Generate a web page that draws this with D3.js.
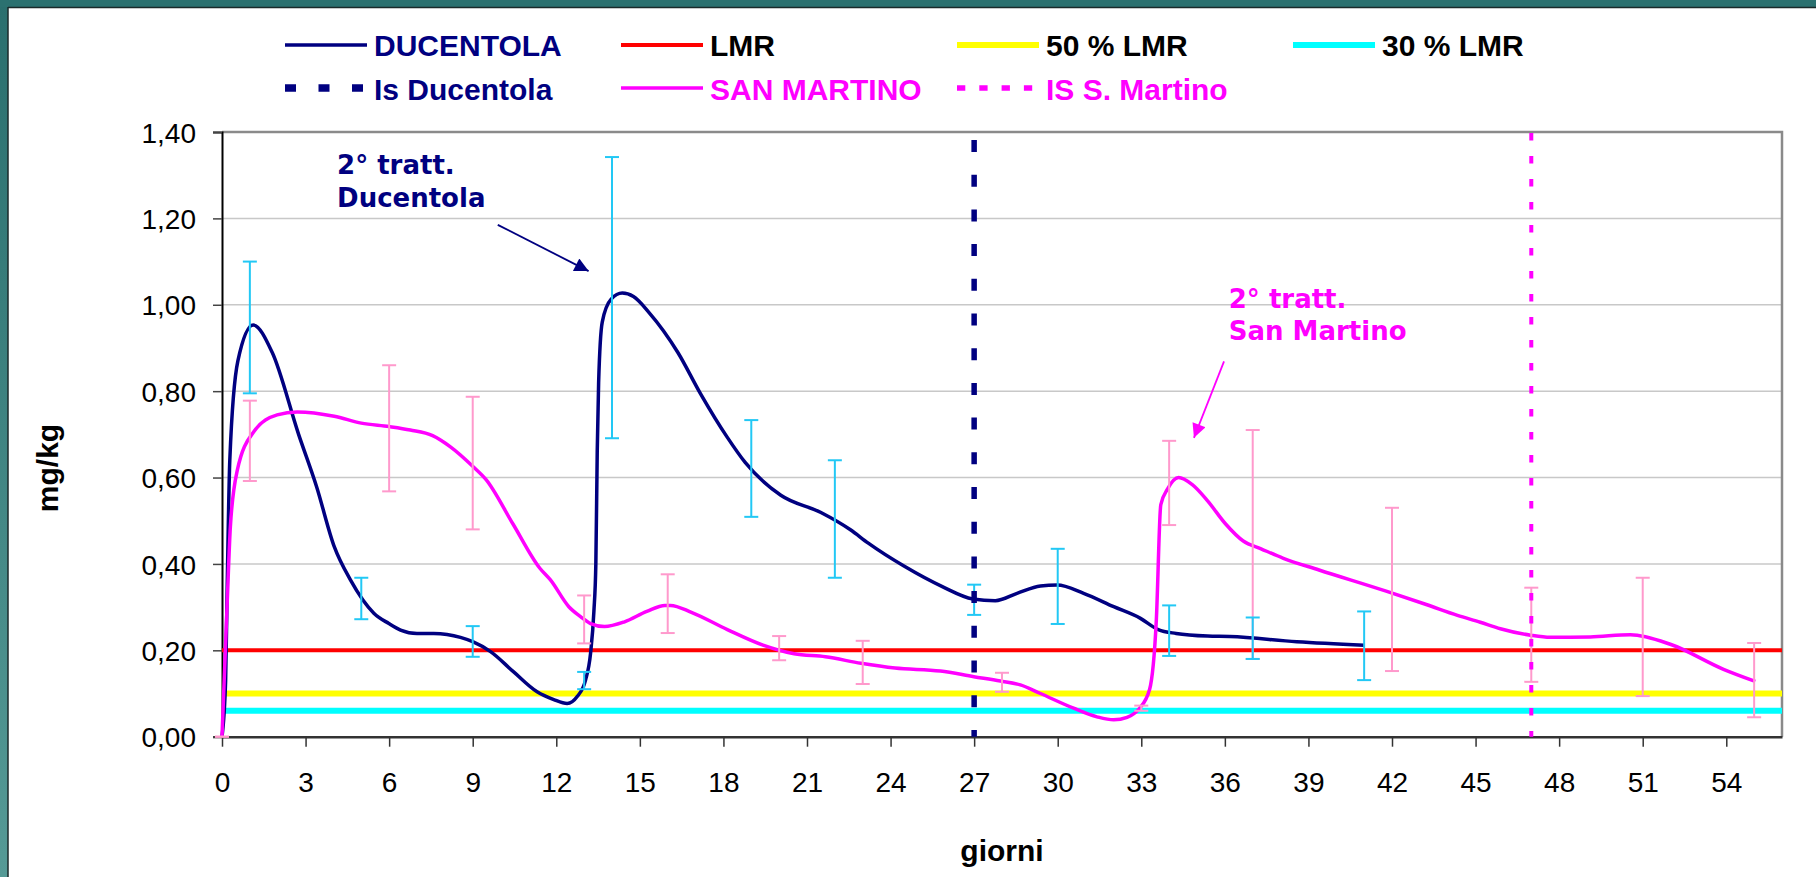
<!DOCTYPE html>
<html><head><meta charset="utf-8">
<script src="https://cdn.jsdelivr.net/npm/d3@7/dist/d3.min.js"></script>
<style>body{margin:0;background:#fff}svg{display:block}</style>
</head><body>
<svg id="chart" width="1816" height="877"></svg>
<script>
// ---- data ----
const xTicks = [0,3,6,9,12,15,18,21,24,27,30,33,36,39,42,45,48,51,54];
const yTicks = [0,0.2,0.4,0.6,0.8,1.0,1.2,1.4];

// DUCENTOLA mean curve (days, mg/kg)
const ducDays = [0,0.13,0.18,0.28,0.57,1.12,1.8,2.75,3.39,4.03,4.61,5.45,5.99,6.41,7.0,7.6,8.56,9.0,9.64,10.47,11.31,11.91,12.39,12.75,13.05,13.23,13.35,13.42,13.47,13.52,13.65,13.97,14.37,14.77,15.33,16.37,17.17,18.14,18.78,20.06,21.5,22.56,23.2,24.48,25.84,26.95,27.76,28.54,29.38,29.98,30.93,32.01,32.97,33.61,34.25,35.38,36.18,38.58,41.0];
const ducVals = [0,0.13,0.32,0.64,0.87,0.953,0.89,0.70,0.58,0.44,0.363,0.286,0.262,0.247,0.239,0.239,0.23,0.22,0.197,0.15,0.104,0.086,0.077,0.093,0.131,0.193,0.29,0.40,0.66,0.82,0.96,1.013,1.027,1.019,0.982,0.889,0.795,0.693,0.635,0.559,0.519,0.479,0.448,0.395,0.348,0.319,0.315,0.332,0.349,0.351,0.332,0.301,0.274,0.248,0.239,0.233,0.232,0.22,0.212];
const ducErrDays = [1,5,9,13,14,19,22,27,30,34,37,41];
const ducErrLo   = [0.795,0.272,0.185,0.11,0.691,0.509,0.368,0.282,0.261,0.187,0.180,0.131];
const ducErrHi   = [1.100,0.368,0.256,0.150,1.342,0.733,0.640,0.352,0.435,0.304,0.276,0.290];

// SAN MARTINO mean curve
const smDays = [0,0.19,0.3,0.55,1.14,1.98,2.7,4.03,5.0,6.0,6.76,7.56,8.2,9.0,9.48,10.44,11.41,11.79,12.45,12.87,13.23,13.73,14.45,15.25,15.9,16.1,16.85,18.14,19.42,20.54,21.66,22.94,24.16,25.79,26.99,27.94,28.66,29.38,30.57,31.41,32.01,32.49,32.9,33.3,33.54,33.7,33.94,34.34,34.82,35.38,36.02,36.66,37.3,38.1,39.38,41.79,43.23,44.35,45.17,45.89,46.97,47.68,49.12,50.56,51.99,53.9,55.04];
const smVals = [0,0.316,0.486,0.617,0.706,0.745,0.752,0.742,0.726,0.718,0.71,0.697,0.671,0.626,0.595,0.493,0.39,0.363,0.301,0.278,0.262,0.255,0.266,0.29,0.304,0.304,0.288,0.248,0.212,0.192,0.185,0.17,0.159,0.152,0.139,0.129,0.12,0.1,0.066,0.046,0.039,0.045,0.063,0.11,0.27,0.537,0.573,0.6,0.584,0.546,0.493,0.453,0.435,0.413,0.386,0.337,0.306,0.281,0.265,0.25,0.235,0.23,0.231,0.236,0.214,0.156,0.128];
const smErrDays = [0,1,6,9,13,16,20,23,28,33,34,37,42,47,51,55];
const smErrLo   = [0,0.592,0.568,0.480,0.216,0.240,0.177,0.122,0.104,0.060,0.490,0.180,0.152,0.127,0.094,0.045];
const smErrHi   = [0,0.778,0.860,0.787,0.327,0.376,0.233,0.222,0.148,0.072,0.685,0.710,0.530,0.345,0.368,0.217];

// reference levels
const lmr = 0.2, lmr50 = 0.1, lmr30 = 0.06;
const isDucentolaDay = 27, isSanMartinoDay = 47;

// annotations (data units)
const annDuc = {day:4.13, val:1.302, lines:["2°  tratt.","Ducentola"], from:[9.9,1.185], to:[13.16,1.078]};
const annSM  = {day:36.14, val:0.993, lines:["2°  tratt.","San Martino"], from:[35.97,0.869], to:[34.89,0.692]};

// ---- drawing ----
const svg = d3.select("#chart");
const W = 1816, H = 877;
const x = d3.scaleLinear().domain([0,56]).range([222,1782]);
const y = d3.scaleLinear().domain([0,1.4]).range([736.7,132]);

const NAVY="#000080", MAG="#ff00ff", RED="#ff0000", YEL="#ffff00", CYA="#00ffff";
const ERRB="#22c8f5", ERRP="#ff99cc";

// frame
const defs = svg.append("defs");
const g1 = defs.append("linearGradient").attr("id","side").attr("x1",0).attr("y1",0).attr("x2",0).attr("y2",1);
g1.append("stop").attr("offset","0").attr("stop-color","#2a6f6e");
g1.append("stop").attr("offset","1").attr("stop-color","#559a96");
svg.append("rect").attr("width",W).attr("height",H).attr("fill","#fff");
svg.append("rect").attr("x",0).attr("y",0).attr("width",8).attr("height",H).attr("fill","url(#side)");
svg.append("rect").attr("x",0).attr("y",0).attr("width",W).attr("height",7).attr("fill","#2b7170");
svg.append("line").attr("x1",8).attr("x2",W).attr("y1",7.5).attr("y2",7.5).attr("stroke","#1a2a2a").attr("stroke-width",1.5);
svg.append("line").attr("x1",8).attr("x2",8).attr("y1",7).attr("y2",H).attr("stroke","#1a2a2a").attr("stroke-width",1.5);

// arrow markers
function marker(id,color){
  defs.append("marker").attr("id",id).attr("viewBox","0 0 10 10").attr("refX",10).attr("refY",5)
    .attr("markerWidth",12).attr("markerHeight",10).attr("markerUnits","userSpaceOnUse").attr("orient","auto")
    .append("path").attr("d","M0,0L10,5L0,10z").attr("fill",color);
}
defs.append("marker").attr("id","aN").attr("viewBox","0 0 10 10").attr("refX",10).attr("refY",5)
  .attr("markerWidth",18).attr("markerHeight",14).attr("markerUnits","userSpaceOnUse").attr("orient","auto")
  .append("path").attr("d","M0,0L10,5L0,10z").attr("fill",NAVY);
defs.append("marker").attr("id","aM").attr("viewBox","0 0 10 10").attr("refX",10).attr("refY",5)
  .attr("markerWidth",18).attr("markerHeight",14).attr("markerUnits","userSpaceOnUse").attr("orient","auto")
  .append("path").attr("d","M0,0L10,5L0,10z").attr("fill",MAG);

// gridlines
svg.append("g").selectAll("line").data(yTicks.filter(d=>d>0 && d<1.4)).join("line")
  .attr("x1",x(0)).attr("x2",x(56)).attr("y1",d=>y(d)).attr("y2",d=>y(d))
  .attr("stroke","#c8c8c8").attr("stroke-width",1.5);

// plot border top/right
svg.append("path").attr("d",`M${x(0)},${y(1.4)}H${x(56)}V${y(0)}`).attr("fill","none").attr("stroke","#8a8a8a").attr("stroke-width",2.5);

// axes
const fmt = d => d.toFixed(2).replace(".",",");
const yAx = svg.append("g").attr("transform",`translate(${x(0)},0)`)
  .call(d3.axisLeft(y).tickValues(yTicks).tickFormat(fmt).tickSize(9).tickPadding(17));
yAx.select(".domain").attr("stroke","#000").attr("stroke-width",2);
yAx.selectAll(".tick line").attr("stroke","#444").attr("stroke-width",1.5);
yAx.selectAll("text").attr("font-family","'Liberation Sans',Arial,sans-serif").attr("font-size",28).attr("fill","#000").attr("dy","0.36em");

const xAx = svg.append("g").attr("transform",`translate(0,${y(0)})`)
  .call(d3.axisBottom(x).tickValues(xTicks).tickFormat(d3.format("d")).tickSize(10).tickSizeOuter(0));
xAx.select(".domain").attr("stroke","#333").attr("stroke-width",2.5);
xAx.selectAll(".tick line").attr("stroke","#333").attr("stroke-width",1.5);
xAx.selectAll("text").attr("font-family","'Liberation Sans',Arial,sans-serif").attr("font-size",28).attr("fill","#000").attr("y",55).attr("dy",0);

// axis titles
svg.append("text").attr("x",(x(0)+x(56))/2).attr("y",861).attr("text-anchor","middle")
  .attr("font-family","'Liberation Sans',Arial,sans-serif").attr("font-weight","bold").attr("font-size",30).text("giorni");
svg.append("text").attr("transform","translate(58,468) rotate(-90)").attr("text-anchor","middle")
  .attr("font-family","'Liberation Sans',Arial,sans-serif").attr("font-weight","bold").attr("font-size",30).text("mg/kg");

// horizontal reference lines
[[lmr50,YEL,6],[lmr30,CYA,6],[lmr,RED,4]].forEach(([v,c,w])=>{
  svg.append("line").attr("x1",x(0)).attr("x2",x(56)).attr("y1",y(v)).attr("y2",y(v)).attr("stroke",c).attr("stroke-width",w);
});

// series lines
const line = d3.line().x(d=>x(d[0])).y(d=>y(d[1])).curve(d3.curveMonotoneX);
svg.append("path").datum(ducDays.map((d,i)=>[d,ducVals[i]])).attr("d",line)
  .attr("fill","none").attr("stroke",NAVY).attr("stroke-width",3.5).attr("stroke-linejoin","round");
svg.append("path").datum(smDays.map((d,i)=>[d,smVals[i]])).attr("d",line)
  .attr("fill","none").attr("stroke",MAG).attr("stroke-width",3.5).attr("stroke-linejoin","round");

// error bars
function errBars(days,lo,hi,color){
  const g = svg.append("g").attr("stroke",color).attr("stroke-width",2);
  days.forEach((d,i)=>{
    const xx = x(d);
    g.append("line").attr("x1",xx).attr("x2",xx).attr("y1",y(lo[i])).attr("y2",y(hi[i]));
    g.append("line").attr("x1",xx-7).attr("x2",xx+7).attr("y1",y(lo[i])).attr("y2",y(lo[i]));
    g.append("line").attr("x1",xx-7).attr("x2",xx+7).attr("y1",y(hi[i])).attr("y2",y(hi[i]));
  });
}
errBars(smErrDays,smErrLo,smErrHi,ERRP);
errBars(ducErrDays,ducErrLo,ducErrHi,ERRB);

// vertical IS lines
svg.append("line").attr("x1",x(isDucentolaDay)).attr("x2",x(isDucentolaDay)).attr("y1",y(1.4)+8).attr("y2",y(0))
  .attr("stroke",NAVY).attr("stroke-width",5.5).attr("stroke-dasharray","12,22.7");
svg.append("line").attr("x1",x(isSanMartinoDay)).attr("x2",x(isSanMartinoDay)).attr("y1",y(1.4)+1).attr("y2",y(0))
  .attr("stroke",MAG).attr("stroke-width",4).attr("stroke-dasharray","7.5,15.5");

// annotations
function annot(a,color,mk){
  const t = svg.append("text").attr("x",x(a.day)).attr("y",y(a.val))
    .attr("font-family","'DejaVu Sans',Verdana,sans-serif").attr("font-weight","bold").attr("font-size",26).attr("fill",color);
  a.lines.forEach((s,i)=>t.append("tspan").attr("x",x(a.day)).attr("dy",i?32.5:0).text(s));
  svg.append("line").attr("x1",x(a.from[0])).attr("y1",y(a.from[1])).attr("x2",x(a.to[0])).attr("y2",y(a.to[1]))
    .attr("stroke",color).attr("stroke-width",1.8).attr("marker-end",`url(#${mk})`);
}
annot(annDuc,NAVY,"aN");
annot(annSM,MAG,"aM");

// legend
const legend = [
  {label:"DUCENTOLA", color:NAVY, text:NAVY, w:3.5, dash:null, x:285, row:0},
  {label:"LMR", color:RED, text:"#000", w:4, dash:null, x:621, row:0},
  {label:"50 % LMR", color:YEL, text:"#000", w:6, dash:null, x:957, row:0},
  {label:"30 % LMR", color:CYA, text:"#000", w:6, dash:null, x:1293, row:0},
  {label:"Is Ducentola", color:NAVY, text:NAVY, w:7.5, dash:"11,22.5", x:285, row:1},
  {label:"SAN MARTINO", color:MAG, text:MAG, w:3.5, dash:null, x:621, row:1},
  {label:"IS S. Martino", color:MAG, text:MAG, w:5.5, dash:"8.3,14", x:957, row:1}
];
const lg = svg.append("g");
legend.forEach(it=>{
  const cy = it.row ? 88 : 45;
  lg.append("line").attr("x1",it.x).attr("x2",it.x+82).attr("y1",cy).attr("y2",cy)
    .attr("stroke",it.color).attr("stroke-width",it.w).attr("stroke-dasharray",it.dash);
  lg.append("text").attr("x",it.x+89).attr("y",it.row?99.5:56)
    .attr("font-family","'Liberation Sans',Arial,sans-serif").attr("font-weight","bold").attr("font-size",30)
    .attr("fill",it.text).text(it.label);
});
</script>
</body></html>
